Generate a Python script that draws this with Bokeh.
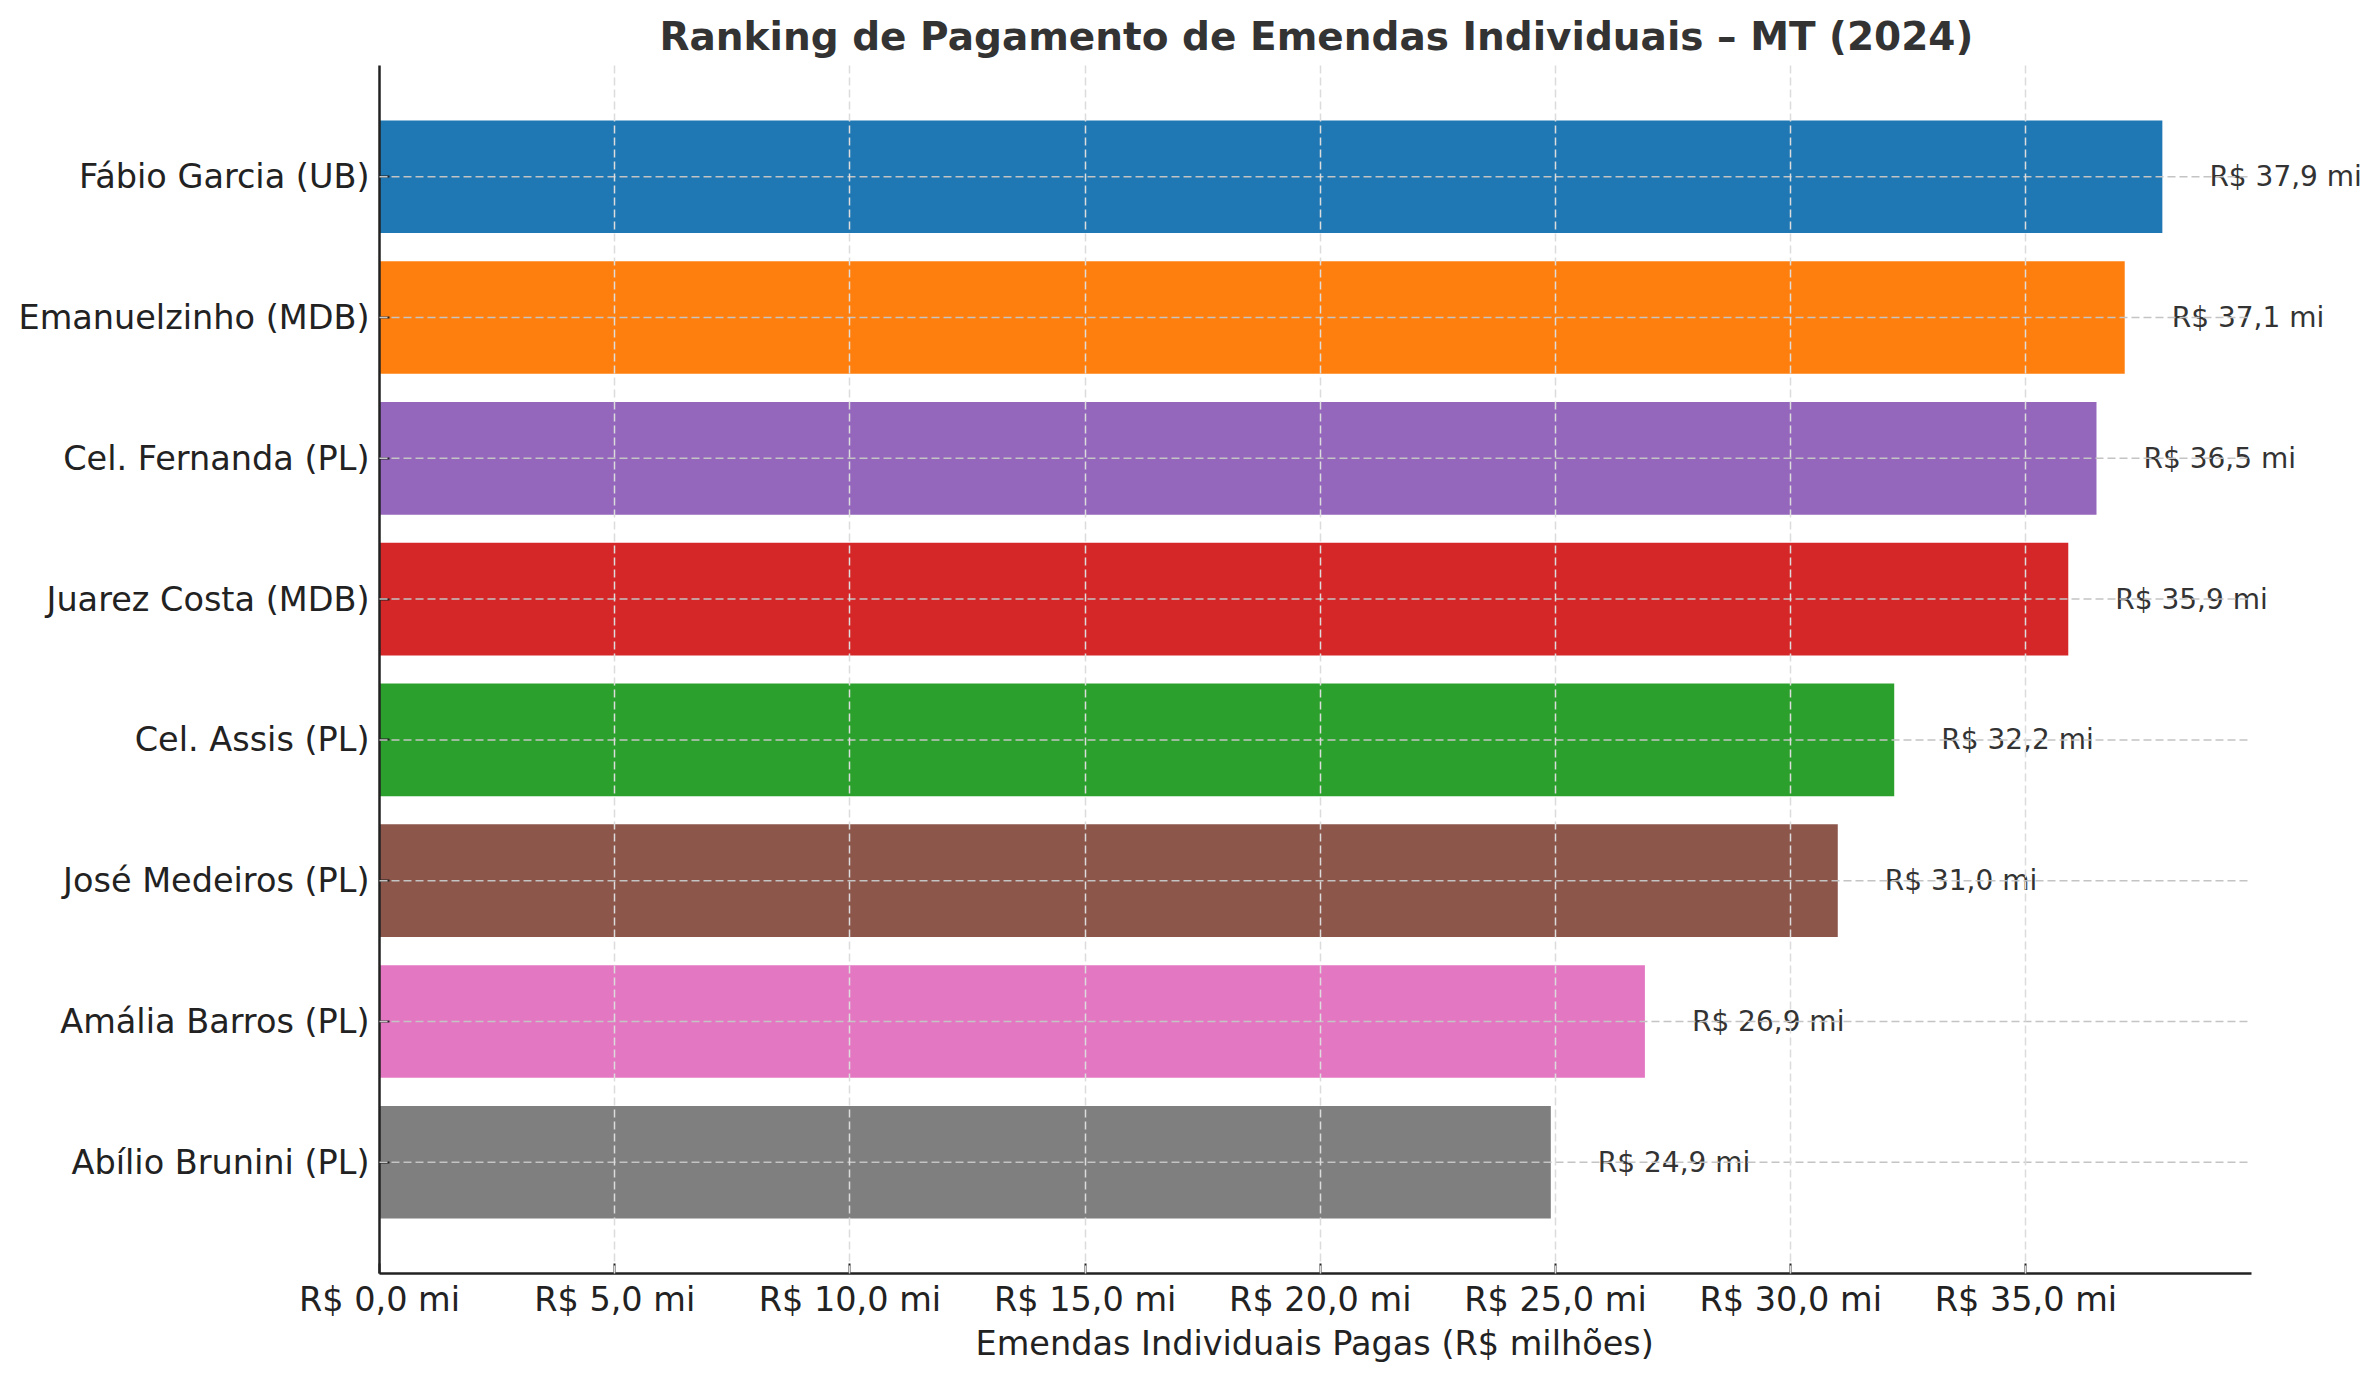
from bokeh.plotting import figure
from bokeh.models import ColumnDataSource, Range1d, FixedTicker, CustomJSTickFormatter, LabelSet, Title
from bokeh.embed import file_html
from bokeh.resources import INLINE
from bokeh.core.properties import value

names = ["Fábio Garcia (UB)", "Emanuelzinho (MDB)", "Cel. Fernanda (PL)", "Juarez Costa (MDB)",
         "Cel. Assis (PL)", "José Medeiros (PL)", "Amália Barros (PL)", "Abílio Brunini (PL)"]
values = [37.9, 37.1, 36.5, 35.9, 32.2, 31.0, 26.9, 24.9]
colors = ["#1f77b4", "#ff7f0e", "#9467bd", "#d62728", "#2ca02c", "#8c564b", "#e377c2", "#7f7f7f"]
x_ticks = [0, 5, 10, 15, 20, 25, 30, 35]

n = len(names)
ypos = [n - 1 - i for i in range(n)]
labels = ["R$ " + f"{v:.1f}".replace(".", ",") + " mi" for v in values]
xmax = max(values) * 1.05
src = ColumnDataSource(dict(y=ypos, v=values, c=colors, lx=[v + 1.0 for v in values], t=labels,
                            g0=[0.0] * n, g1=[xmax] * n))

FONT = "DejaVu Sans"
W, H = 2362, 1362
LEFT, TOP = 379, 65
AX_W = 1872                      # pixel width of the axis span 0..xmax
fw = W - LEFT                    # frame extends to the right edge so labels are not clipped
x_end = xmax * fw / AX_W

p = figure(width=W, height=H, output_backend="svg", toolbar_location=None,
           x_range=Range1d(0, x_end), y_range=Range1d(-0.79, n - 1 + 0.79),
           frame_width=fw, frame_height=1208,
           min_border_left=LEFT, min_border_top=TOP, min_border_right=0, min_border_bottom=89,
           title="Ranking de Pagamento de Emendas Individuais – MT (2024)")
p.outline_line_color = None
p.background_fill_color = "white"

p.hbar(y="y", left=0, right="v", height=0.8, fill_color="c", line_color=None, source=src)
p.add_layout(LabelSet(x="lx", y="y", text="t", source=src, text_font=value(FONT),
                      text_font_size="28px", text_color="#333333", text_align="left",
                      text_baseline="middle"))
hg = p.segment(x0="g0", x1="g1", y0="y", y1="y", source=src, line_color="#c4c4c4",
               line_width=1.5, line_dash="8 4")
hg.level = "overlay"

p.title.align = "left"
p.title.offset = 280
p.title.standoff = 13
p.title.text_font = FONT
p.title.text_font_size = "39px"
p.title.text_font_style = "bold"
p.title.text_color = "#333333"

p.xaxis.ticker = FixedTicker(ticks=x_ticks)
p.xaxis.formatter = CustomJSTickFormatter(code="return 'R$ ' + tick.toFixed(1).replace('.', ',') + ' mi';")
p.xaxis.bounds = (0, xmax)
p.yaxis.ticker = FixedTicker(ticks=ypos)
p.yaxis.major_label_overrides = {y: nm for y, nm in zip(ypos, names)}

for ax in (p.xaxis[0], p.yaxis[0]):
    ax.axis_line_color = "#222222"
    ax.axis_line_width = 2.5
    ax.major_tick_in = 10
    ax.major_tick_out = 0
    ax.major_tick_line_color = "#222222"
    ax.major_tick_line_width = 2
    ax.minor_tick_line_color = None
    ax.major_label_text_font = FONT
    ax.major_label_text_font_size = "33.5px"
    ax.major_label_text_color = "#222222"
p.yaxis.major_label_standoff = 10
p.xaxis.major_label_standoff = 6

# x-axis label, aligned under the axis span (0..xmax)
xlabel = Title(text="Emendas Individuais Pagas (R$ milhões)", align="left", offset=596,
               standoff=1, text_font=FONT, text_font_size="33.5px", text_font_style="normal",
               text_color="#222222")
p.add_layout(xlabel, "below")

p.xgrid.grid_line_color = "#dcdcdc"
p.xgrid.grid_line_dash = "8 4"
p.xgrid.grid_line_width = 1.5
p.xgrid.level = "overlay"
p.ygrid.grid_line_color = None

open("out.html", "w").write(file_html(p, INLINE))
